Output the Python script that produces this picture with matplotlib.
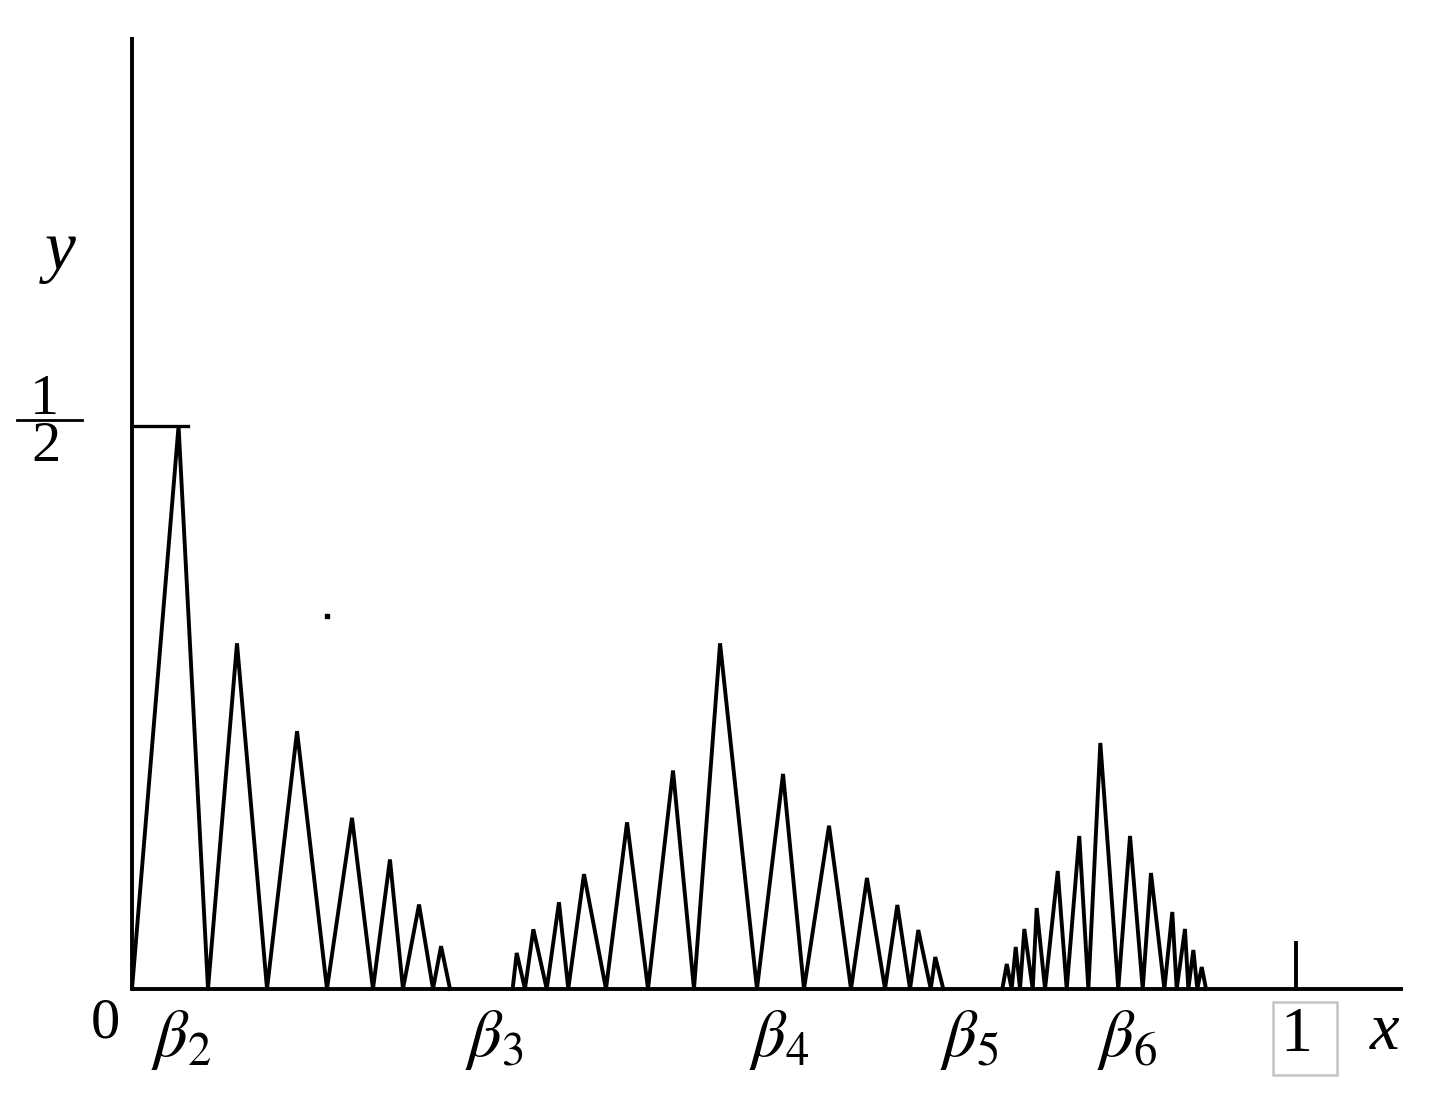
"""zigzag graph of y(x) with beta points on the x axis"""
import matplotlib
matplotlib.use("Agg")
import matplotlib.pyplot as plt
from matplotlib.patches import Rectangle

#vertices of the three zigzag groups (x in [0, 1], y up to 1/2)
x_group1 = [0.0, 0.040, 0.0653, 0.0902, 0.116, 0.1418, 0.1675, 0.189, 0.207,
	0.2216, 0.2328, 0.2466, 0.2586, 0.2655, 0.2732]
y_group1 = [0.0, 0.5, 0.0, 0.307, 0.0, 0.229, 0.0, 0.152, 0.0,
	0.115, 0.0, 0.075, 0.0, 0.038, 0.0]

x_group2 = [0.327, 0.3305, 0.3376, 0.3448, 0.3563, 0.3668, 0.3748, 0.3883, 0.4072,
	0.4253, 0.4433, 0.4648, 0.4828, 0.5052, 0.5369, 0.5593, 0.5773, 0.5988,
	0.6177, 0.6314, 0.6469, 0.6575, 0.6684, 0.6755, 0.6862, 0.6901, 0.697]
y_group2 = [0.0, 0.032, 0.0, 0.053, 0.0, 0.077, 0.0, 0.102, 0.0,
	0.148, 0.0, 0.194, 0.0, 0.307, 0.0, 0.191, 0.0, 0.145,
	0.0, 0.0986, 0.0, 0.0746, 0.0, 0.0524, 0.0, 0.0284, 0.0]

x_group3 = [0.7477, 0.7515, 0.7557, 0.7592, 0.7629, 0.7666, 0.7738, 0.7772, 0.7844,
	0.7953, 0.803, 0.8138, 0.8216, 0.8319, 0.8473, 0.8574, 0.8683, 0.8754,
	0.8869, 0.8937, 0.8975, 0.9046, 0.9075, 0.9118, 0.9152, 0.919, 0.9227]
y_group3 = [0.0, 0.0222, 0.0, 0.0373, 0.0, 0.0533, 0.0, 0.0719, 0.0,
	0.1048, 0.0, 0.1359, 0.0, 0.2185, 0.0, 0.1359, 0.0, 0.103,
	0.0, 0.0684, 0.0, 0.0533, 0.0, 0.0346, 0.0, 0.0195, 0.0]

#labels under the x axis
beta_labels = [r"$\beta_2$", r"$\beta_3$", r"$\beta_4$", r"$\beta_5$", r"$\beta_6$"]
beta_x = [0.042, 0.311, 0.556, 0.719, 0.855]

tick_one_height = 0.041
half_mark_len = 0.048
x_end = 1.092
y_end = 0.845
stray_dot = (0.1675, 0.331)

plt.rcParams["font.family"] = ["Liberation Serif", "DejaVu Serif"]
plt.rcParams["mathtext.fontset"] = "stix"

fig = plt.figure(figsize=(14.4, 11.08), dpi=100)
ax = fig.add_axes([0, 0, 1, 1])
ax.set_xlim(-0.1134, 1.1237)
ax.set_ylim(-0.1057, 0.8783)
ax.axis("off")

lw = 2.8
#axes drawn as plain lines
ax.plot([0, x_end], [0, 0], color="black", lw=lw, solid_capstyle="butt")
ax.plot([0, 0], [0, y_end], color="black", lw=lw, solid_capstyle="butt")
ax.plot([0, half_mark_len], [0.5, 0.5], color="black", lw=lw * 0.85)
ax.plot([1, 1], [0, tick_one_height], color="black", lw=lw)

#zigzag groups
for xs, ys in [(x_group1, y_group1), (x_group2, y_group2), (x_group3, y_group3)]:
	ax.plot(xs, ys, color="black", lw=lw, solid_joinstyle="miter")

ax.plot([stray_dot[0]], [stray_dot[1]], marker="s", ms=2.5, color="black")

#texts
ax.text(-0.0232, -0.031, "0", fontsize=42, ha="center", va="center")
for lab, bx in zip(beta_labels, beta_x):
	ax.text(bx, -0.045, lab, fontsize=48, ha="center", va="center")

ax.text(1.0, -0.042, "1", fontsize=46, ha="center", va="center")
ax.add_patch(Rectangle((0.980, -0.0764), 0.055, 0.065, fill=False,
	edgecolor="#c4c4c4", lw=1.8))
ax.text(1.076, -0.039, "x", fontsize=48, style="italic", ha="center", va="center")

ax.text(-0.062, 0.654, "y", fontsize=50, style="italic", ha="center", va="center")
ax.text(-0.075, 0.523, "1", fontsize=42, ha="center", va="center")
ax.plot([-0.0985, -0.0430], [0.505, 0.505], color="black", lw=2.0)
ax.text(-0.074, 0.481, "2", fontsize=42, ha="center", va="center")

plt.savefig("out.png", dpi=100)
